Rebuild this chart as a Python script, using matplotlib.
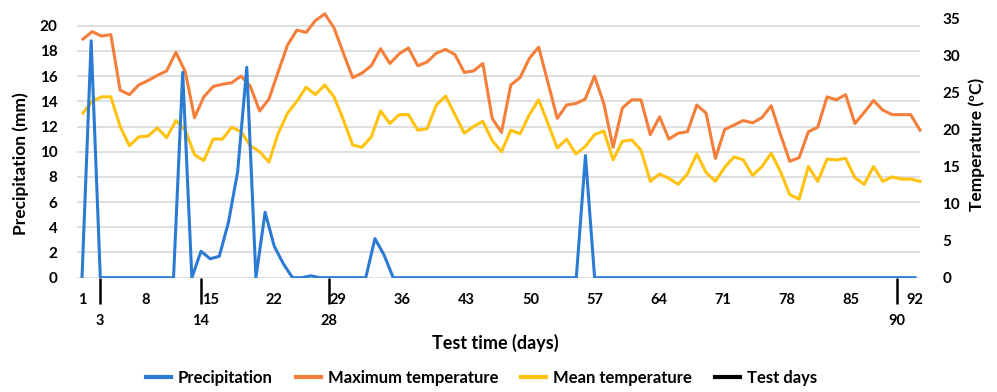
import matplotlib
matplotlib.use("Agg")
import matplotlib.pyplot as plt
import numpy as np
from matplotlib.lines import Line2D

# --- data ------------------------------------------------------------------
days = np.arange(1, 93)
precip = [0, 18.8, 0, 0, 0, 0, 0, 0, 0, 0,
          0, 16.3, 0, 2.1, 1.5, 1.7, 4.4, 8.4, 16.7, 0,
          5.2, 2.5, 1.1, 0, 0, 0.15, 0, 0, 0, 0,
          0, 0, 3.1, 1.8, 0, 0, 0, 0, 0, 0,
          0, 0, 0, 0, 0, 0, 0, 0, 0, 0,
          0, 0, 0, 0, 0, 9.7, 0, 0, 0, 0,
          0, 0, 0, 0, 0, 0, 0, 0, 0, 0,
          0, 0, 0, 0, 0, 0, 0, 0, 0, 0,
          0, 0, 0, 0, 0, 0, 0, 0, 0, 0,
          0, 0]

# temperature record has one value fewer, drawn across the full width
temp_days = np.arange(1, 92)
t_max = [32.2, 33.2, 32.6, 32.8, 25.3, 24.7, 26.0, 26.6, 27.3, 27.9,
         30.4, 27.8, 21.6, 24.4, 25.8, 26.1, 26.3, 27.2, 25.8, 22.5,
         24.1, 27.8, 31.4, 33.4, 33.1, 34.7, 35.6, 33.7, 30.3, 27.0,
         27.6, 28.6, 30.9, 28.9, 30.2, 31.0, 28.6, 29.1, 30.3, 30.8,
         30.1, 27.7, 27.9, 28.9, 21.5, 19.6, 26.0, 27.0, 29.6, 31.1,
         26.3, 21.5, 23.3, 23.5, 24.1, 27.2, 23.5, 17.6, 22.9, 24.0,
         24.0, 19.3, 21.7, 18.7, 19.5, 19.7, 23.3, 22.2, 16.1, 20.0,
         20.6, 21.2, 20.9, 21.6, 23.2, 19.3, 15.7, 16.2, 19.7, 20.3,
         24.4, 24.0, 24.7, 20.8, 22.3, 23.9, 22.6, 22.0, 22.0, 22.0,
         19.9]
t_mean = [22.2, 23.8, 24.4, 24.4, 20.4, 17.8, 19.0, 19.1, 20.2, 18.9,
          21.2, 19.9, 16.6, 15.8, 18.7, 18.7, 20.3, 19.7, 17.8, 17.0,
          15.6, 19.5, 22.2, 23.8, 25.7, 24.7, 26.0, 24.4, 21.3, 17.9,
          17.6, 19.0, 22.5, 20.8, 22.0, 22.0, 19.9, 20.1, 23.3, 24.5,
          22.0, 19.5, 20.4, 21.1, 18.5, 17.0, 19.9, 19.4, 22.0, 24.0,
          20.8, 17.5, 18.7, 16.7, 17.7, 19.3, 19.8, 15.9, 18.4, 18.6,
          17.2, 13.0, 14.0, 13.4, 12.6, 14.0, 16.7, 14.2, 13.0, 14.9,
          16.3, 15.9, 13.8, 15.0, 16.8, 14.3, 11.2, 10.6, 15.0, 13.0,
          16.0, 15.9, 16.1, 13.5, 12.6, 15.0, 13.0, 13.6, 13.3, 13.3,
          13.0]

test_days = [3, 14, 28, 90]
day_ticks = list(range(1, 93, 7))
precip_ticks = list(range(0, 21, 2))
temp_ticks = list(range(0, 36, 5))

BLUE = "#2B7BD5"
ORANGE = "#F47F3A"
YELLOW = "#FFC20E"

plt.rcParams["font.family"] = ["Lato", "DejaVu Sans"]
plt.rcParams["font.weight"] = "bold"
plt.rcParams["axes.labelweight"] = "bold"

fig = plt.figure(figsize=(9.97, 3.92), dpi=100)
pos = [0.0772, 0.2916, 0.8456, 0.6778]

# bottom axes: grid, ticks, labels
ax = fig.add_axes(pos)
ax.set_xlim(0.45, 92.55)
ax.set_ylim(0, 21.09)
ax.set_yticks(precip_ticks)
ax.set_xticks(day_ticks)
ax.grid(axis="y", color="#D9D9D9", lw=1.2)
ax.set_axisbelow(True)
for s in ax.spines.values():
    s.set_visible(False)
ax.tick_params(axis="x", length=0, pad=11, labelsize=10.5)
ax.tick_params(axis="y", length=0, pad=14, labelsize=11)
ax.set_ylabel("Precipitation (mm)", fontsize=12.5)
ax.yaxis.set_label_coords(-0.057, 0.43)
ax.set_xlabel("Test time (days)", fontsize=13)
ax.xaxis.set_label_coords(0.496, -0.21)

# test-day markers below the axis
sec = ax.secondary_xaxis("bottom")
sec.set_xticks(test_days)
sec.set_xticklabels([str(d) for d in test_days])
sec.tick_params(length=19, width=1.8, color="black", pad=7, labelsize=10.5)
for s in sec.spines.values():
    s.set_visible(False)

# temperature axis (right) with its own day index
ax_t = ax.twinx()
ax_t.set_ylim(0, 35.85)
ax_t.set_yticks(temp_ticks)
ax_t.tick_params(axis="y", length=0, pad=16, labelsize=11)
for s in ax_t.spines.values():
    s.set_visible(False)
ax_t.set_ylabel("Temperature (ºC)", fontsize=12.5)
ax_t.yaxis.set_label_coords(1.058, 0.5)

ax_tx = ax_t.twiny()
ax_tx.set_xlim(0.36, 91.0)
ax_tx.set_xticks([])
for s in ax_tx.spines.values():
    s.set_visible(False)
ax_tx.plot(temp_days, t_max, color=ORANGE, lw=2.2, clip_on=False)
ax_tx.plot(temp_days, t_mean, color=YELLOW, lw=2.2, clip_on=False)

# precipitation on top
ax_p = fig.add_axes(pos, sharex=ax, sharey=ax)
ax_p.patch.set_visible(False)
ax_p.axis("off")
ax_p.plot(days, precip, color=BLUE, lw=2.2)

handles = [
    Line2D([], [], color=BLUE, lw=3),
    Line2D([], [], color=ORANGE, lw=3),
    Line2D([], [], color=YELLOW, lw=3),
    Line2D([], [], color="black", lw=3),
]
labels = ["Precipitation", "Maximum temperature", "Mean temperature", "Test days"]
fig.legend(handles, labels, loc="center", bbox_to_anchor=(0.483, 0.036),
           ncol=4, frameon=False, fontsize=12, handlelength=1.5,
           handletextpad=0.4, columnspacing=1.4)

fig.savefig("out.png", dpi=100)
